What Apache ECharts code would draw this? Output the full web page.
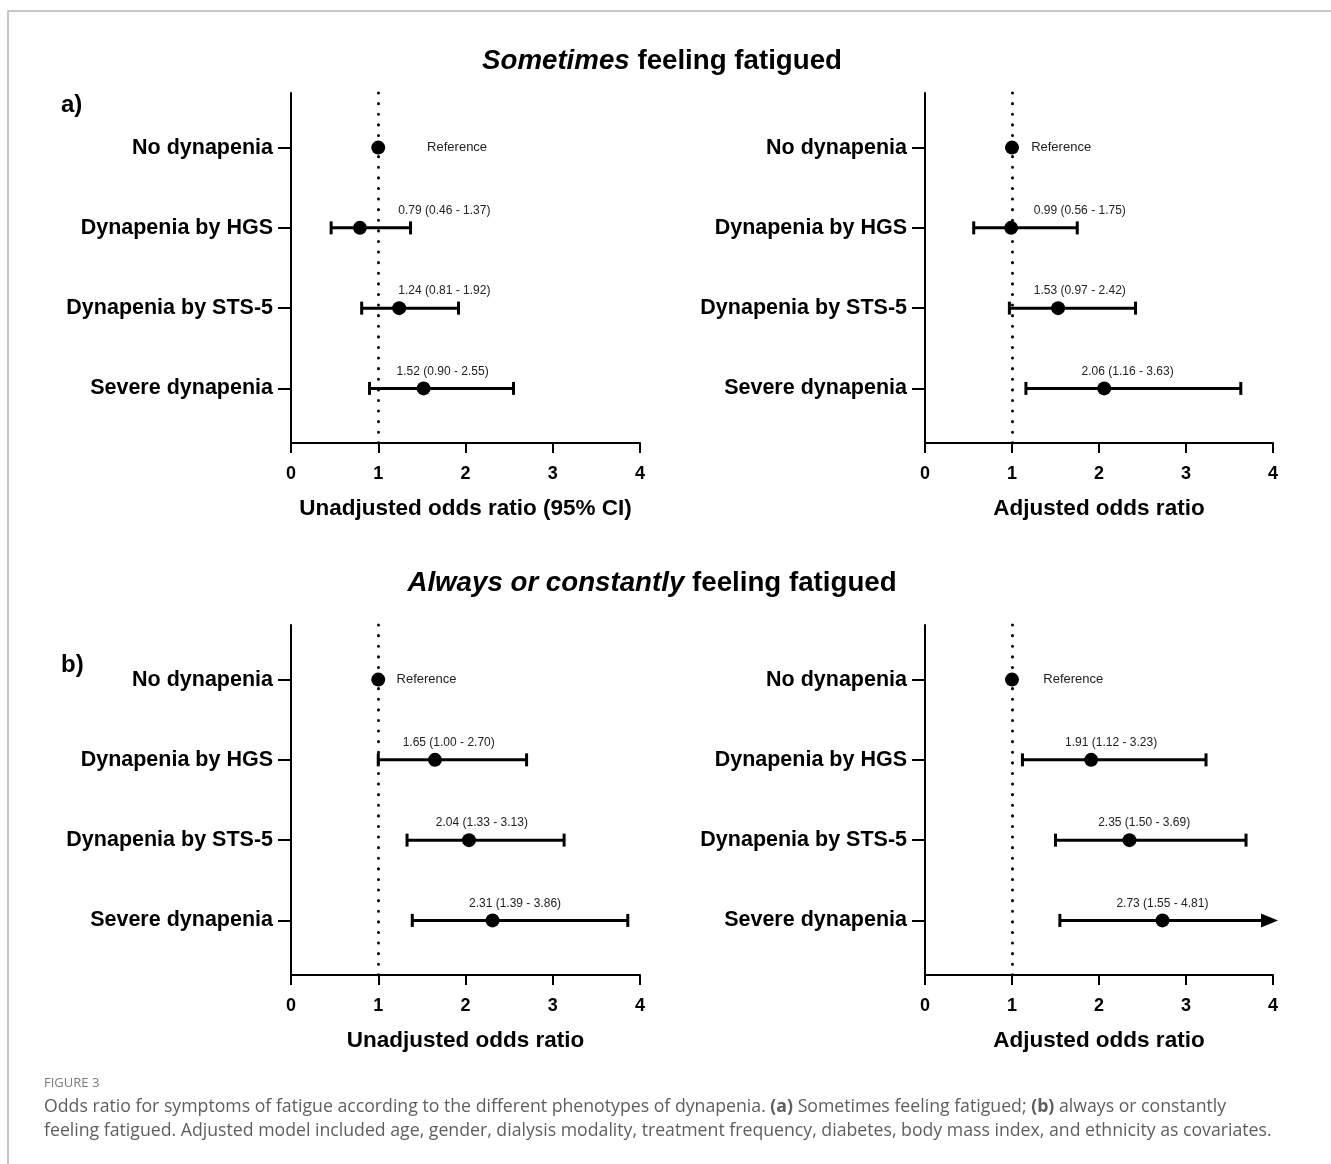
<!DOCTYPE html>
<html>
<head>
<meta charset="utf-8">
<script src="https://cdn.jsdelivr.net/npm/echarts@6/dist/echarts.min.js"></script>
<style>
  html, body { margin: 0; padding: 0; background: #fff; }
  #chart { width: 1331px; height: 1164px; }
</style>
</head>
<body>
<div id="chart"></div>
<script>
// Dynapenia phenotypes (rows, top to bottom)
const rows = ['No dynapenia', 'Dynapenia by HGS', 'Dynapenia by STS-5', 'Severe dynapenia'];
const xTicks = [0, 1, 2, 3, 4];

// (a) Sometimes feeling fatigued — unadjusted
const aUnadjOR = [1, 0.79, 1.24, 1.52];
const aUnadjLo = [null, 0.46, 0.81, 0.90];
const aUnadjHi = [null, 1.37, 1.92, 2.55];
// (a) Sometimes feeling fatigued — adjusted
const aAdjOR = [1, 0.99, 1.53, 2.06];
const aAdjLo = [null, 0.56, 0.97, 1.16];
const aAdjHi = [null, 1.75, 2.42, 3.63];
// (b) Always or constantly feeling fatigued — unadjusted
const bUnadjOR = [1, 1.65, 2.04, 2.31];
const bUnadjLo = [null, 1.00, 1.33, 1.39];
const bUnadjHi = [null, 2.70, 3.13, 3.86];
// (b) Always or constantly feeling fatigued — adjusted
const bAdjOR = [1, 1.91, 2.35, 2.73];
const bAdjLo = [null, 1.12, 1.50, 1.55];
const bAdjHi = [null, 3.23, 3.69, 4.81];

// where each annotation starts, in odds-ratio units (layout only)
const noteStart = [
  [1.56, 1.23, 1.23, 1.21],
  [1.22, 1.25, 1.25, 1.80],
  [1.21, 1.28, 1.66, 2.04],
  [1.36, 1.61, 1.99, 2.20]
];

const FONT = '"Liberation Sans", Arial, sans-serif';
const CAPTION_FONT = '"Open Sans", sans-serif';
const X_MAX = 4;

const panels = [
  { or: aUnadjOR, lo: aUnadjLo, hi: aUnadjHi, xName: 'Unadjusted odds ratio (95% CI)', grid: { left: 291, top: 93, width: 349, height: 350 } },
  { or: aAdjOR, lo: aAdjLo, hi: aAdjHi, xName: 'Adjusted odds ratio', grid: { left: 925, top: 93, width: 348, height: 350 } },
  { or: bUnadjOR, lo: bUnadjLo, hi: bUnadjHi, xName: 'Unadjusted odds ratio', grid: { left: 291, top: 625, width: 349, height: 350 } },
  { or: bAdjOR, lo: bAdjLo, hi: bAdjHi, xName: 'Adjusted odds ratio', grid: { left: 925, top: 625, width: 348, height: 350 } }
];

const grids = [], xAxes = [], yAxes = [], series = [];

panels.forEach((p, i) => {
  grids.push(p.grid);
  xAxes.push({
    gridIndex: i, type: 'value', min: 0, max: X_MAX, interval: 1,
    axisLine: { onZero: false, lineStyle: { color: '#000', width: 2 } },
    axisTick: { length: 10, lineStyle: { color: '#000', width: 2 } },
    axisLabel: { color: '#000', fontFamily: FONT, fontWeight: 'bold', fontSize: 18, margin: 22,
      formatter: v => xTicks.includes(v) ? String(v) : '' },
    splitLine: { show: false },
    name: p.xName, nameLocation: 'middle', nameGap: 54,
    nameTextStyle: { color: '#000', fontFamily: FONT, fontWeight: 'bold', fontSize: 22.5 }
  });
  yAxes.push({
    gridIndex: i, type: 'value', inverse: true, min: -0.68, max: 3.68,
    axisLine: { show: true, onZero: false, lineStyle: { color: '#000', width: 2 } },
    axisTick: { show: true, length: 13, customValues: [0, 1, 2, 3], lineStyle: { color: '#000', width: 2 } },
    axisLabel: { customValues: [0, 1, 2, 3], margin: 18, color: '#000', fontFamily: FONT, fontWeight: 'bold', fontSize: 21.5,
      formatter: v => rows[Math.round(v)] },
    splitLine: { show: false }
  });

  // confidence intervals
  const ciData = [];
  rows.forEach((r, k) => { if (p.lo[k] != null) ciData.push([k, p.lo[k], p.hi[k]]); });
  series.push({
    type: 'custom', xAxisIndex: i, yAxisIndex: i, clip: false, z: 2,
    encode: { x: [1, 2], y: 0 },
    data: ciData,
    renderItem: (params, api) => {
      const row = api.value(0), lo = api.value(1), hi = api.value(2);
      const a = api.coord([lo, row]);
      const b = api.coord([Math.min(hi, X_MAX), row]);
      const st = { stroke: '#000', lineWidth: 3 };
      const children = [
        { type: 'line', shape: { x1: a[0], y1: a[1], x2: b[0], y2: b[1] }, style: st },
        { type: 'line', shape: { x1: a[0], y1: a[1] - 6.5, x2: a[0], y2: a[1] + 6.5 }, style: st }
      ];
      if (hi > X_MAX) {
        children.push({ type: 'polygon', shape: { points: [[b[0] - 12, b[1] - 7], [b[0] + 5, b[1]], [b[0] - 12, b[1] + 7]] }, style: { fill: '#000' } });
      } else {
        children.push({ type: 'line', shape: { x1: b[0], y1: b[1] - 6.5, x2: b[0], y2: b[1] + 6.5 }, style: st });
      }
      return { type: 'group', children };
    }
  });

  // point estimates and the reference line at OR = 1
  series.push({
    type: 'scatter', xAxisIndex: i, yAxisIndex: i, z: 3,
    symbol: 'circle', symbolSize: 14,
    itemStyle: { color: '#000', opacity: 1 },
    data: p.or.map((v, k) => [v, k]),
    markLine: {
      silent: true, symbol: 'none', animation: false,
      label: { show: false },
      lineStyle: { color: '#000', width: 3, type: [0.1, 10.5], cap: 'round', opacity: 1 },
      data: [{ xAxis: 1 }]
    }
  });

  // annotations
  const notes = rows.map((r, k) => [noteStart[i][k], k,
    p.lo[k] == null ? 'Reference' : `${p.or[k].toFixed(2)} (${p.lo[k].toFixed(2)} - ${p.hi[k].toFixed(2)})`]);
  series.push({
    type: 'custom', xAxisIndex: i, yAxisIndex: i, clip: false, z: 4, silent: true,
    data: notes,
    renderItem: (params, api) => {
      const k = api.value(1);
      const txt = notes[params.dataIndex][2];
      const c = api.coord([api.value(0), k]);
      const isRef = txt === 'Reference';
      return {
        type: 'text', x: c[0], y: isRef ? c[1] : c[1] - 17,
        style: { text: txt, fill: '#222', font: `${isRef ? 13 : 12}px ${FONT}`, align: 'left', verticalAlign: 'middle' }
      };
    }
  });
});

const option = {
  backgroundColor: '#fff',
  animation: false,
  grid: grids, xAxis: xAxes, yAxis: yAxes, series,
  graphic: [
    { type: 'rect', shape: { x: 8, y: 11, width: 1400, height: 1300 }, style: { fill: 'none', stroke: '#b4b4b4', lineWidth: 1.5 }, silent: true },
    { type: 'text', x: 662, y: 61, style: {
        text: '{i|Sometimes} feeling fatigued', align: 'center', verticalAlign: 'middle',
        font: `bold 27.7px ${FONT}`, fill: '#000',
        rich: { i: { fontStyle: 'italic', fontWeight: 'bold', fontSize: 27.7, fontFamily: FONT, fill: '#000' } } } },
    { type: 'text', x: 652, y: 583, style: {
        text: '{i|Always or constantly} feeling fatigued', align: 'center', verticalAlign: 'middle',
        font: `bold 27.7px ${FONT}`, fill: '#000',
        rich: { i: { fontStyle: 'italic', fontWeight: 'bold', fontSize: 27.7, fontFamily: FONT, fill: '#000' } } } },
    { type: 'text', x: 61, y: 105, style: { text: 'a)', font: `bold 24px ${FONT}`, fill: '#000', verticalAlign: 'middle' } },
    { type: 'text', x: 61, y: 665, style: { text: 'b)', font: `bold 24px ${FONT}`, fill: '#000', verticalAlign: 'middle' } },
    { type: 'text', x: 44, y: 1083, style: { text: 'FIGURE 3', font: `13px ${CAPTION_FONT}`, fill: '#7a7a7a', verticalAlign: 'middle' } },
    { type: 'text', x: 44, y: 1107, style: {
        text: 'Odds ratio for symptoms of fatigue according to the different phenotypes of dynapenia. {b|(a)} Sometimes feeling fatigued; {b|(b)} always or constantly',
        font: `17.7px ${CAPTION_FONT}`, fill: '#5e5e5e', verticalAlign: 'middle',
        rich: { b: { fontWeight: 'bold', fontSize: 17.7, fontFamily: CAPTION_FONT, fill: '#5e5e5e' } } } },
    { type: 'text', x: 44, y: 1131, style: {
        text: 'feeling fatigued. Adjusted model included age, gender, dialysis modality, treatment frequency, diabetes, body mass index, and ethnicity as covariates.',
        font: `17.7px ${CAPTION_FONT}`, fill: '#5e5e5e', verticalAlign: 'middle' } }
  ]
};

const chart = echarts.init(document.getElementById('chart'), null, { renderer: 'canvas' });
chart.setOption(option);
</script>
</body>
</html>
